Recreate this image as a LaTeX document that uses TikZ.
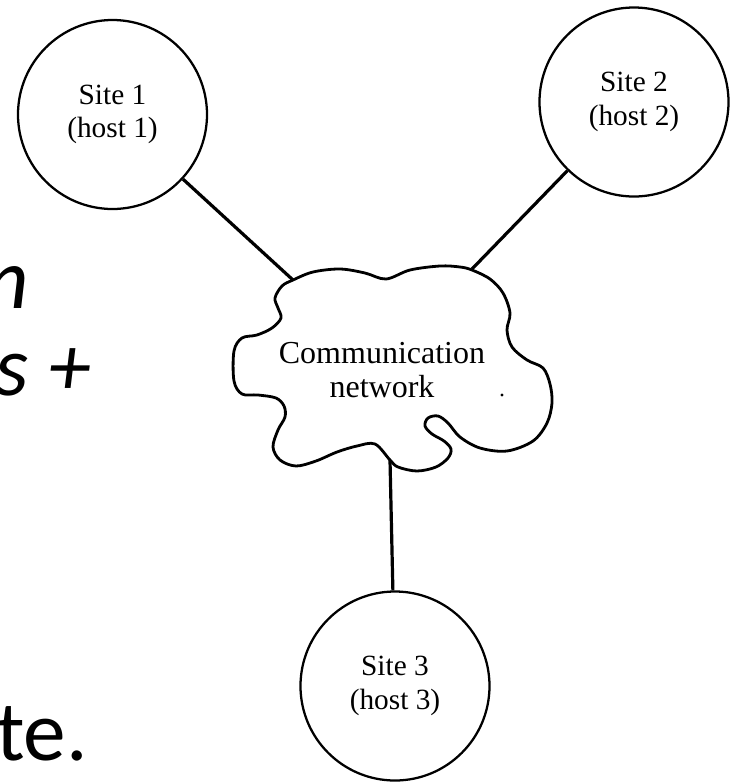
\documentclass[tikz,border=0pt]{standalone}
\usepackage{fontspec}
\setmainfont{Liberation Serif}
\newfontfamily\slidefont{Carlito}
\begin{document}
\begin{tikzpicture}[x=0.75pt,y=-0.75pt,
  site/.style={draw=black, line width=1.7pt, circle, minimum size=141.75pt, inner sep=0pt,
    align=center, font=\fontsize{22}{25}\selectfont},
  conn/.style={draw=black, line width=2.4pt},
  cloudline/.style={draw=black, line width=2.1pt, fill=white},
  slide/.style={anchor=base east, inner sep=0pt, font=\slidefont\fontsize{64}{70}\selectfont}]
\useasboundingbox (0,0) rectangle (736,783);
\clip (0,0) rectangle (736,783);
\fill[white] (0,0) rectangle (736,783);

% partial slide text at the left edge
\node[slide, font=\slidefont\itshape\fontsize{65}{70}\selectfont] (tn) at (29,308) {n};
\node[slide, font=\slidefont\itshape\fontsize{64}{70}\selectfont] (ts) at (91,395) {s +};
\node[slide] (tt) at (88,760) {te.};

% cloud
\draw[cloudline] plot[smooth cycle, tension=0.55] coordinates {
  (293,280) (313,272) (340,269) (365,273) (386,279) (410,270) (440,266) (460,267)
  (472,270) (490,279) (503,293) (510,313) (507,330) (512,347) (527,360) (543,368)
  (550,384) (552,403) (547,423) (533,441) (507,451) (480,448) (460,437) (448,423)
  (438,416) (428,418) (425,426) (432,434) (444,441) (451,449) (448,458) (436,467)
  (417,471) (398,467) (390,460) (375,444) (357,446) (337,452) (316,461) (296,466)
  (280,460) (273,447) (278,430) (285,417) (284,406) (276,398) (258,395) (242,394)
  (234,381) (234,351) (242,338) (257,335) (272,328) (281,318) (278,308) (275,298)
  (282,286)};
\node[align=center, inner sep=0pt, font=\fontsize{24}{25.5}\selectfont] (net) at (382,370)
  {Communication\\network};
\fill (502,395) circle (1.3pt);

\coordinate (j1) at (293,280);
\coordinate (j2) at (472,269);
\coordinate (j3) at (390,460);

% sites
\node[site] (s1) at (112.5,114.5) {Site 1\\(host 1)};
\node[site] (s2) at (634,102) {Site 2\\(host 2)};
\node[site] (s3) at (395,686) {Site 3\\(host 3)};

% connectors
\draw[conn] (s1) -- (j1);
\draw[conn] (s2) -- (j2);
\draw[conn] (j3) -- (s3);
\end{tikzpicture}
\end{document}
